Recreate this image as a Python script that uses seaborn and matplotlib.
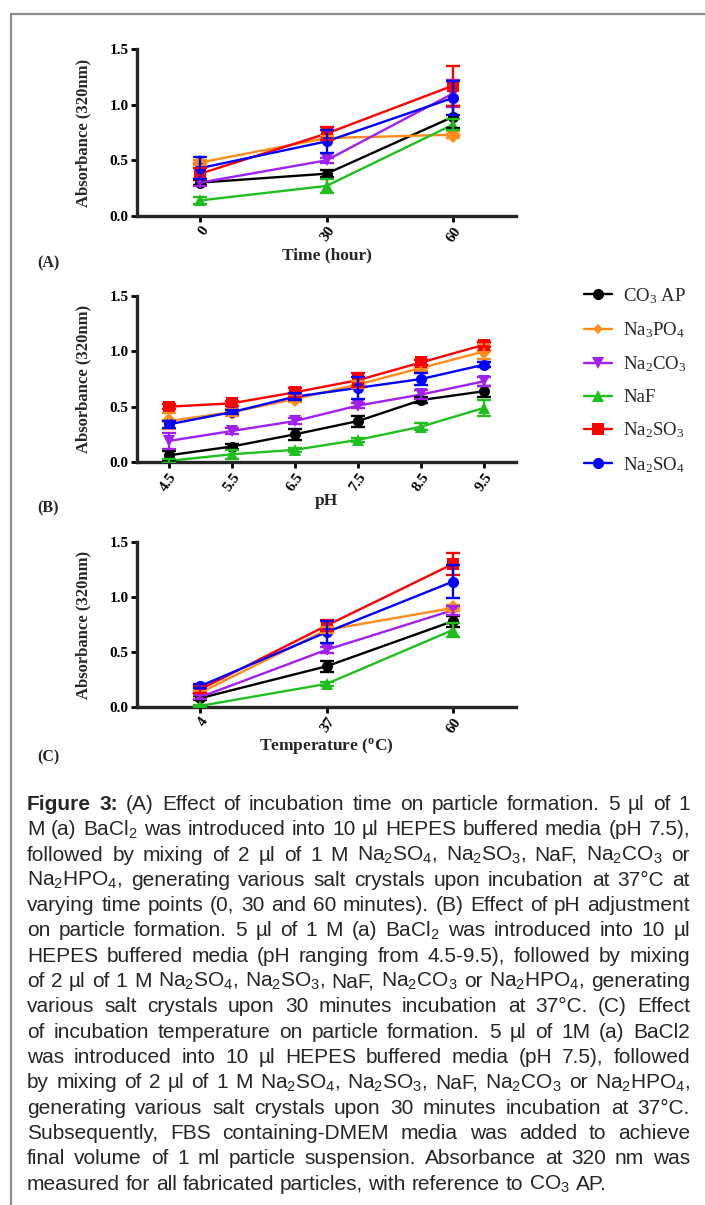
import numpy as np
import pandas as pd
import matplotlib
matplotlib.use('Agg')
import matplotlib.pyplot as plt
import seaborn as sns
from matplotlib.lines import Line2D

# ---------------- data ----------------
series = ['CO3 AP', 'Na3PO4', 'Na2CO3', 'NaF', 'Na2SO3', 'Na2SO4']
legend_labels = [r'CO$_3$ AP', r'Na$_3$PO$_4$', r'Na$_2$CO$_3$', 'NaF',
                 r'Na$_2$SO$_3$', r'Na$_2$SO$_4$']
colors = ['#000000', '#FF8C1A', '#A020F0', '#1FBF1F', '#FF0000', '#0000FF']
markers = ['o', 'D', 'v', '^', 's', 'o']
msizes = [8, 5.5, 8, 8, 8, 8]

time_labels = ['0', '30', '60']
time_mean = {
    'CO3 AP': [0.30, 0.38, 0.89],
    'Na3PO4': [0.48, 0.70, 0.73],
    'Na2CO3': [0.30, 0.50, 1.10],
    'NaF':    [0.14, 0.27, 0.82],
    'Na2SO3': [0.38, 0.74, 1.17],
    'Na2SO4': [0.43, 0.67, 1.06],
}
time_err = {
    'CO3 AP': [0.02, 0.03, 0.10],
    'Na3PO4': [0.02, 0.02, 0.03],
    'Na2CO3': [0.03, 0.02, 0.12],
    'NaF':    [0.03, 0.06, 0.05],
    'Na2SO3': [0.05, 0.06, 0.18],
    'Na2SO4': [0.10, 0.10, 0.15],
}

ph_labels = ['4.5', '5.5', '6.5', '7.5', '8.5', '9.5']
ph_mean = {
    'CO3 AP': [0.06, 0.14, 0.25, 0.37, 0.56, 0.64],
    'Na3PO4': [0.37, 0.45, 0.57, 0.70, 0.85, 1.00],
    'Na2CO3': [0.19, 0.28, 0.37, 0.51, 0.61, 0.73],
    'NaF':    [0.01, 0.07, 0.11, 0.20, 0.32, 0.49],
    'Na2SO3': [0.50, 0.53, 0.63, 0.74, 0.90, 1.06],
    'Na2SO4': [0.34, 0.45, 0.59, 0.67, 0.75, 0.88],
}
ph_err = {
    'CO3 AP': [0.04, 0.02, 0.05, 0.05, 0.03, 0.05],
    'Na3PO4': [0.07, 0.03, 0.03, 0.03, 0.03, 0.07],
    'Na2CO3': [0.07, 0.03, 0.03, 0.02, 0.04, 0.04],
    'NaF':    [0.02, 0.04, 0.02, 0.02, 0.03, 0.07],
    'Na2SO3': [0.02, 0.02, 0.04, 0.06, 0.02, 0.02],
    'Na2SO4': [0.03, 0.02, 0.03, 0.10, 0.05, 0.02],
}

temp_labels = ['4', '37', '60']
temp_mean = {
    'CO3 AP': [0.08, 0.37, 0.78],
    'Na3PO4': [0.13, 0.70, 0.90],
    'Na2CO3': [0.09, 0.52, 0.88],
    'NaF':    [0.01, 0.21, 0.70],
    'Na2SO3': [0.16, 0.74, 1.30],
    'Na2SO4': [0.19, 0.68, 1.14],
}
temp_err = {
    'CO3 AP': [0.02, 0.05, 0.05],
    'Na3PO4': [0.02, 0.03, 0.03],
    'Na2CO3': [0.02, 0.03, 0.04],
    'NaF':    [0.01, 0.02, 0.06],
    'Na2SO3': [0.03, 0.05, 0.10],
    'Na2SO4': [0.02, 0.10, 0.15],
}

caption_lines = [
    "Figure 3: (A) Effect of incubation time on particle formation. 5 µl of 1",
    "M (a) BaCl$_2$ was introduced into 10 µl HEPES buffered media (pH 7.5),",
    "followed by mixing of 2 µl of 1 M Na$_2$SO$_4$, Na$_2$SO$_3$, NaF, Na$_2$CO$_3$ or",
    "Na$_2$HPO$_4$, generating various salt crystals upon incubation at 37°C at",
    "varying time points (0, 30 and 60 minutes). (B) Effect of pH adjustment",
    "on particle formation. 5 µl of 1 M (a) BaCl$_2$ was introduced into 10 µl",
    "HEPES buffered media (pH ranging from 4.5-9.5), followed by mixing",
    "of 2 µl of 1 M Na$_2$SO$_4$, Na$_2$SO$_3$, NaF, Na$_2$CO$_3$ or Na$_2$HPO$_4$, generating",
    "various salt crystals upon 30 minutes incubation at 37°C. (C) Effect",
    "of incubation temperature on particle formation. 5 µl of 1M (a) BaCl2",
    "was introduced into 10 µl HEPES buffered media (pH 7.5), followed",
    "by mixing of 2 µl of 1 M Na$_2$SO$_4$, Na$_2$SO$_3$, NaF, Na$_2$CO$_3$ or Na$_2$HPO$_4$,",
    "generating various salt crystals upon 30 minutes incubation at 37°C.",
    "Subsequently, FBS containing-DMEM media was added to achieve",
    "final volume of 1 ml particle suspension. Absorbance at 320 nm was",
    "measured for all fabricated particles, with reference to CO$_3$ AP.",
]

# ---------------- style ----------------
sns.set_style('ticks')
plt.rcParams['font.family'] = ['Liberation Serif', 'DejaVu Serif']
plt.rcParams['mathtext.default'] = 'regular'

W, H = 705, 1205
fig = plt.figure(figsize=(W / 100, H / 100), dpi=100)
fig.patch.set_facecolor('white')

SERIF = ['Liberation Serif', 'DejaVu Serif']
CAPF = ['Liberation Sans Narrow', 'Liberation Sans', 'DejaVu Sans']


def px_axes(left, top, right, bottom):
    return fig.add_axes([left / W, 1 - bottom / H, (right - left) / W, (bottom - top) / H])


def panel(ax, labels, means, errs, xlabel, letter, letter_y):
    rows = []
    for s in series:
        for i, v in enumerate(means[s]):
            rows.append({'pos': i, 'value': v, 'series': s})
    df = pd.DataFrame(rows)
    sns.lineplot(data=df, x='pos', y='value', hue='series', style='series',
                 hue_order=series, style_order=series,
                 palette=dict(zip(series, colors)),
                 markers=dict(zip(series, markers)), dashes=False,
                 linewidth=1.7, markersize=8, markeredgewidth=0,
                 legend=False, ax=ax, errorbar=None)
    for s, c in zip(series, colors):
        ax.errorbar(range(len(labels)), means[s], yerr=errs[s], fmt='none',
                    ecolor=c, elinewidth=1.7, capsize=5, capthick=1.7, zorder=3)
    ax.set_xlim(-0.5, len(labels) - 0.5)
    ax.set_ylim(0, 1.5)
    ax.set_yticks([0, 0.5, 1.0, 1.5])
    ax.set_yticklabels(['0.0', '0.5', '1.0', '1.5'], fontfamily=SERIF,
                       fontweight='bold', fontsize=11)
    ax.set_xticks(range(len(labels)))
    ax.set_xticklabels(labels, fontfamily=SERIF, fontweight='bold', fontsize=11,
                       rotation=55, ha='right', va='top', rotation_mode='anchor')
    sns.despine(ax=ax)
    for sp in ['left', 'bottom']:
        ax.spines[sp].set_linewidth(2.4)
    ax.tick_params(axis='both', width=2.0, length=4, pad=2, colors='black')
    ax.set_ylabel('Absorbance (320nm)', fontfamily=SERIF, fontsize=12,
                  fontweight='bold')
    ax.yaxis.set_label_coords(-0.142, 0.5)
    ax.yaxis.label.set_va('center')
    ax.set_xlabel(xlabel, fontfamily=SERIF, fontsize=12.5, fontweight='bold')
    axh = ax.get_position().height * H
    ax.xaxis.set_label_coords(0.5, -39 / axh)
    ax.xaxis.label.set_va('center')
    ax.set_facecolor('white')
    fig.text(48 / W, 1 - letter_y / H, letter, fontfamily=SERIF, fontsize=11.5,
             fontweight='bold', ha='center', va='center')


axA = px_axes(137, 49, 516, 216)
axB = px_axes(137, 296, 516, 462)
axC = px_axes(137, 542, 516, 707)

panel(axA, time_labels, time_mean, time_err, 'Time (hour)', '(A)', 263)
panel(axB, ph_labels, ph_mean, ph_err, 'pH', '(B)', 508)
panel(axC, temp_labels, temp_mean, temp_err, 'Temperature ($^{o}$C)', '(C)', 757)

# legend
handles = [Line2D([0], [0], color=c, marker=m, markersize=ms, markeredgewidth=0,
                  linewidth=1.7) for c, m, ms in zip(colors, markers, msizes)]
fig.legend(handles, legend_labels, loc='upper left',
           bbox_to_anchor=(584 / W, 1 - 286 / H), frameon=False,
           prop={'family': SERIF, 'size': 13.5}, handlelength=1.5,
           handletextpad=0.6, labelspacing=0.78, borderpad=0, borderaxespad=0)

# page frame lines
fig.add_artist(Line2D([11 / W, 1.0], [1 - 14 / H, 1 - 14 / H], color='#8c8c8c',
                      linewidth=1.6, transform=fig.transFigure))
fig.add_artist(Line2D([11 / W, 11 / W], [0, 1 - 14 / H], color='#8c8c8c',
                      linewidth=1.6, transform=fig.transFigure))

# caption (justified)
renderer = fig.canvas.get_renderer()
cap_left, cap_right = 27, 690
cap_size = 15.0


def measure(s, weight='normal', size=None):
    t = fig.text(0, 0, s, fontfamily=CAPF, fontsize=size or cap_size, fontweight=weight)
    w = t.get_window_extent(renderer).width
    t.remove()
    return w


# fit font size so that the densest line fits
target = cap_right - cap_left
for _ in range(6):
    sp = measure('a a') - 2 * measure('a')
    widest = 0
    for li, line in enumerate(caption_lines):
        words = line.split(' ')
        tot = 0
        for wi, wd in enumerate(words):
            bold = (li == 0 and wi < 2)
            tot += measure(wd, 'bold' if bold else 'normal')
        tot += sp * (len(words) - 1)
        widest = max(widest, tot)
    if widest > target:
        cap_size *= target / widest * 0.995
    else:
        break

sp = measure('a a') - 2 * measure('a')
y0, dy = 810, 25.3
for li, line in enumerate(caption_lines):
    words = line.split(' ')
    ws = []
    for wi, wd in enumerate(words):
        bold = (li == 0 and wi < 2)
        ws.append(measure(wd, 'bold' if bold else 'normal'))
    if li < len(caption_lines) - 1 and len(words) > 1:
        gap = (target - sum(ws)) / (len(words) - 1)
    else:
        gap = sp
    x = cap_left
    yb = y0 + li * dy
    for wi, (wd, w) in enumerate(zip(words, ws)):
        bold = (li == 0 and wi < 2)
        fig.text(x / W, 1 - yb / H, wd, fontfamily=CAPF, fontsize=cap_size,
                 fontweight='bold' if bold else 'normal', ha='left', va='baseline')
        x += w + gap

fig.savefig('out.png', dpi=100, facecolor='white')
